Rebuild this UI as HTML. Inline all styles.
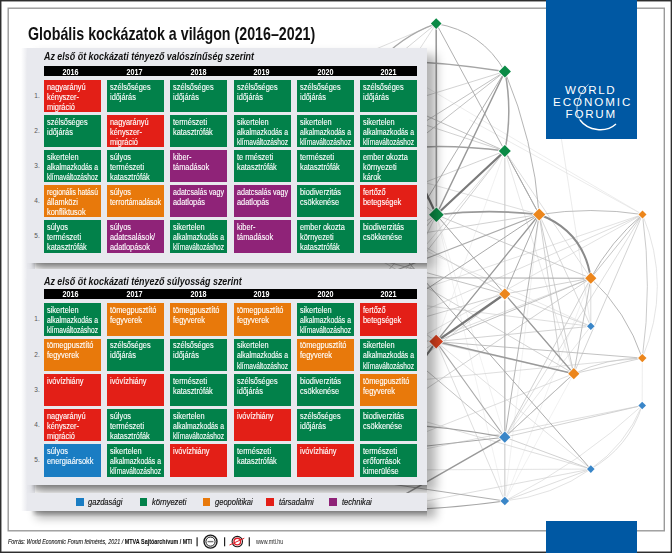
<!DOCTYPE html>
<html><head><meta charset="utf-8">
<style>
*{margin:0;padding:0;box-sizing:border-box}
html,body{width:672px;height:553px;overflow:hidden;background:#fff}
body{position:relative;font-family:"Liberation Sans",sans-serif}
.abs{position:absolute}
#outer{position:absolute;left:0;top:0;width:672px;height:553px;border:1px solid #222}
#inner{position:absolute;left:8px;top:8px;width:657px;height:523px;border:1px solid #7a7a7a}
.panel{position:absolute;left:27px;width:400px;background:#e8e9ee;box-shadow:9px 7px 10px rgba(0,0,0,0.3)}
.shadow{position:absolute;background:linear-gradient(#9a9a9a,#e6e6e6 90%,rgba(255,255,255,0))}
.ptitle{position:absolute;left:44px;font:italic bold 10.2px/12px "Liberation Sans",sans-serif;color:#111;white-space:nowrap;transform:scaleX(0.875);transform-origin:0 0}
.hdr{position:absolute;left:44px;width:373px;height:9.9px;background:#000}
.yr{position:absolute;top:0.3px;width:57px;text-align:center;color:#fff;font:bold 9px/10px "Liberation Sans",sans-serif;transform:scaleX(0.8)}
.cell{position:absolute;width:57px;height:32.4px;color:#fff;overflow:hidden}
.cell span{position:absolute;left:3px;font:8.7px/10.1px "Liberation Sans",sans-serif;white-space:nowrap;transform-origin:0 0;-webkit-text-stroke:0.12px #fff}
.num{position:absolute;left:34.3px;font:6.5px "Liberation Sans",sans-serif;color:#555}
.wef{position:absolute;color:#fff;font:11.6px/12px "Liberation Sans",sans-serif;white-space:nowrap}
.leg{position:absolute;width:7.5px;height:7.5px;top:498.3px}
.legt{position:absolute;top:496.9px;font:italic 8.4px "Liberation Sans",sans-serif;color:#111;-webkit-text-stroke:0.15px #111;transform:scaleX(0.9);transform-origin:0 0;white-space:nowrap}
</style></head><body>
<svg class="abs" style="left:0;top:0" width="672" height="553"><rect x="0.7" y="0.7" width="670.7" height="551.6" fill="none" stroke="#2e2e2e" stroke-width="1.5"/><rect x="8.2" y="8.2" width="656.1" height="522.6" fill="none" stroke="#9a9a9a" stroke-width="1.4"/></svg>
<svg class="abs" style="left:0;top:0" width="672" height="553" viewBox="0 0 672 553"><g fill="none" stroke-linecap="round"><path d="M504.8 151.0L436.2 341.6" stroke="#e8e8e8" stroke-width="0.6"/><path d="M504.8 151.0L504.8 437.2" stroke="#e8e8e8" stroke-width="0.6"/><path d="M504.8 151.0L504.8 501.0" stroke="#e8e8e8" stroke-width="0.6"/><path d="M436.4 214.8L436.2 341.6" stroke="#e8e8e8" stroke-width="0.6"/><path d="M436.4 214.8L504.8 437.2" stroke="#e8e8e8" stroke-width="0.6"/><path d="M436.4 214.8L504.8 501.0" stroke="#e8e8e8" stroke-width="0.6"/><path d="M539.2 214.5L504.8 501.0" stroke="#e8e8e8" stroke-width="0.6"/><path d="M504.8 294.0L504.8 501.0" stroke="#e8e8e8" stroke-width="0.6"/><path d="M504.8 501.0L573.8 373.7" stroke="#e8e8e8" stroke-width="0.6"/><path d="M504.8 501.0L590.8 278.2" stroke="#e8e8e8" stroke-width="0.6"/><path d="M642.3 358.1L642.2 405.5" stroke="#e0e0e0" stroke-width="0.6"/><path d="M380.0 60.0L642.5 214.5" stroke="#e0e0e0" stroke-width="0.6"/><path d="M642.5 214.5L470.0 120.0" stroke="#dedede" stroke-width="0.6"/><path d="M560.0 130.0L590.8 326.3" stroke="#dedede" stroke-width="0.6"/><path d="M642.5 214.5Q672.4 286.3 642.3 358.1" stroke="#d8d8d8" stroke-width="0.7"/><path d="M504.8 501.0Q580.3 463.1 642.2 405.5" stroke="#d8d8d8" stroke-width="0.7"/><path d="M590.8 326.3L380.0 230.0" stroke="#d8d8d8" stroke-width="0.6"/><path d="M504.8 151.0L573.8 373.7" stroke="#d8d8d8" stroke-width="0.6"/><path d="M642.5 214.5L390.0 300.0" stroke="#d5d5d5" stroke-width="0.7"/><path d="M436.2 341.6L590.8 469.1" stroke="#d5d5d5" stroke-width="0.7"/><path d="M642.2 405.5Q625.8 444.8 590.8 469.1" stroke="#d5d5d5" stroke-width="0.7"/><path d="M590.8 469.1Q552.0 496.3 504.8 501.0" stroke="#d5d5d5" stroke-width="0.7"/><path d="M642.5 214.5L380.0 360.0" stroke="#d5d5d5" stroke-width="0.7"/><path d="M590.8 469.1L380.0 470.0" stroke="#d5d5d5" stroke-width="0.7"/><path d="M590.8 326.3L504.8 437.2" stroke="#d5d5d5" stroke-width="0.6"/><path d="M436.4 214.8L573.8 373.7" stroke="#d5d5d5" stroke-width="0.7"/><path d="M642.5 214.5L504.8 437.2" stroke="#d0d0d0" stroke-width="0.7"/><path d="M504.8 151.0L590.8 278.2" stroke="#d0d0d0" stroke-width="0.7"/><path d="M642.3 358.1L420.0 380.0" stroke="#d0d0d0" stroke-width="0.7"/><path d="M642.2 405.5L420.0 450.0" stroke="#d0d0d0" stroke-width="0.7"/><path d="M590.8 469.1L420.0 420.0" stroke="#d0d0d0" stroke-width="0.7"/><path d="M642.5 214.5L380.0 330.0" stroke="#d0d0d0" stroke-width="0.7"/><path d="M590.8 326.3L380.0 300.0" stroke="#d0d0d0" stroke-width="0.7"/><path d="M590.8 469.1L380.0 510.0" stroke="#d0d0d0" stroke-width="0.7"/><path d="M573.8 373.7L380.0 450.0" stroke="#d0d0d0" stroke-width="0.7"/><path d="M590.8 278.2L380.0 360.0" stroke="#d0d0d0" stroke-width="0.7"/><path d="M504.8 151.0L380.0 300.0" stroke="#d0d0d0" stroke-width="0.7"/><path d="M436.2 23.6L380.0 110.0" stroke="#d0d0d0" stroke-width="0.7"/><path d="M436.2 23.6L350.0 60.0" stroke="#d0d0d0" stroke-width="0.7"/><path d="M539.2 214.5L380.0 170.0" stroke="#d0d0d0" stroke-width="0.7"/><path d="M436.2 341.6L504.8 501.0" stroke="#d0d0d0" stroke-width="0.7"/><path d="M642.2 405.5Q628.9 447.4 590.8 469.1" stroke="#d0d0d0" stroke-width="0.7"/><path d="M504.8 501.0L590.8 469.1" stroke="#cfcfcf" stroke-width="0.7"/><path d="M573.8 373.7L380.0 330.0" stroke="#cfcfcf" stroke-width="0.7"/><path d="M436.2 23.6L380.0 70.0" stroke="#ccc" stroke-width="0.8"/><path d="M590.8 326.3L590.8 278.2" stroke="#ccc" stroke-width="0.7"/><path d="M590.8 326.3L504.8 294.0" stroke="#ccc" stroke-width="0.7"/><path d="M642.5 214.5L573.8 373.7" stroke="#c8c8c8" stroke-width="0.8"/><path d="M436.2 341.6L590.8 326.3" stroke="#c8c8c8" stroke-width="0.8"/><path d="M504.8 437.2L642.2 405.5" stroke="#c8c8c8" stroke-width="0.8"/><path d="M504.8 437.2L504.8 501.0" stroke="#c8c8c8" stroke-width="0.8"/><path d="M573.8 373.7L642.3 358.1" stroke="#c8c8c8" stroke-width="0.8"/><path d="M504.8 151.0L504.8 294.0" stroke="#c8c8c8" stroke-width="0.8"/><path d="M573.8 373.7Q606.3 358.1 642.3 358.1" stroke="#c8c8c8" stroke-width="0.8"/><path d="M573.8 373.7L380.0 260.0" stroke="#c8c8c8" stroke-width="0.8"/><path d="M504.8 294.0L380.0 390.0" stroke="#c8c8c8" stroke-width="0.8"/><path d="M504.8 294.0L380.0 220.0" stroke="#c8c8c8" stroke-width="0.8"/><path d="M504.8 151.0L380.0 200.0" stroke="#c8c8c8" stroke-width="0.8"/><path d="M504.9 71.5L380.0 110.0" stroke="#c8c8c8" stroke-width="0.8"/><path d="M436.4 214.8L380.0 330.0" stroke="#c8c8c8" stroke-width="0.8"/><path d="M436.4 214.8L380.0 170.0" stroke="#c8c8c8" stroke-width="0.8"/><path d="M436.2 341.6L380.0 300.0" stroke="#c8c8c8" stroke-width="0.8"/><path d="M436.2 341.6L380.0 380.0" stroke="#c8c8c8" stroke-width="0.8"/><path d="M539.2 214.5L590.8 326.3" stroke="#c8c8c8" stroke-width="0.7"/><path d="M504.8 151.0L380.0 110.0" stroke="#c5c5c5" stroke-width="0.8"/><path d="M590.8 278.2L504.8 437.2" stroke="#c5c5c5" stroke-width="0.8"/><path d="M504.8 294.0L590.8 278.2" stroke="#c5c5c5" stroke-width="0.8"/><path d="M504.8 437.2L590.8 469.1" stroke="#c5c5c5" stroke-width="0.8"/><path d="M436.4 214.8L380.0 250.0" stroke="#c5c5c5" stroke-width="0.8"/><path d="M504.8 151.0L420.0 260.0" stroke="#c5c5c5" stroke-width="0.8"/><path d="M504.8 294.0L380.0 330.0" stroke="#c5c5c5" stroke-width="0.8"/><path d="M642.5 214.5Q652.4 286.3 642.3 358.1" stroke="#c5c5c5" stroke-width="0.9"/><path d="M539.2 214.5L560.0 360.0" stroke="#c5c5c5" stroke-width="0.8"/><path d="M590.8 278.2L380.0 420.0" stroke="#c5c5c5" stroke-width="0.8"/><path d="M539.2 214.5L380.0 240.0" stroke="#c5c5c5" stroke-width="0.8"/><path d="M436.4 214.8L590.8 278.2" stroke="#c0c0c0" stroke-width="0.8"/><path d="M539.2 214.5L573.8 373.7" stroke="#c0c0c0" stroke-width="0.8"/><path d="M642.5 214.5L590.8 278.2" stroke="#c0c0c0" stroke-width="0.9"/><path d="M573.8 373.7L504.8 437.2" stroke="#c0c0c0" stroke-width="0.8"/><path d="M539.2 214.5Q590.9 206.5 642.5 214.5" stroke="#bdbdbd" stroke-width="1.0"/><path d="M436.2 341.6L642.3 358.1" stroke="#bbb" stroke-width="0.9"/><path d="M380.0 95.0L504.8 151.0" stroke="#bbb" stroke-width="0.9"/><path d="M504.9 71.5L380.0 150.0" stroke="#bbb" stroke-width="0.9"/><path d="M504.9 71.5L380.0 170.0" stroke="#bbb" stroke-width="0.9"/><path d="M590.8 278.2L573.8 373.7" stroke="#bbb" stroke-width="0.9"/><path d="M590.8 278.2L436.2 341.6" stroke="#bbb" stroke-width="0.9"/><path d="M504.8 294.0L380.0 260.0" stroke="#bbb" stroke-width="0.9"/><path d="M504.8 437.2L573.8 373.7" stroke="#bbb" stroke-width="0.9"/><path d="M436.4 214.8L380.0 280.0" stroke="#bbb" stroke-width="0.9"/><path d="M504.8 437.2L380.0 331.0" stroke="#bbb" stroke-width="0.9"/><path d="M590.8 278.2Q626.6 311.6 642.3 358.1" stroke="#b8b8b8" stroke-width="1.0"/><path d="M539.2 214.5L504.8 437.2" stroke="#b5b5b5" stroke-width="1.0"/><path d="M504.9 71.5Q533.7 140.2 539.2 214.5" stroke="#b5b5b5" stroke-width="1.0"/><path d="M642.5 214.5Q610.4 241.3 590.8 278.2" stroke="#b5b5b5" stroke-width="1.0"/><path d="M436.2 23.6Q482.0 31.1 504.9 71.5" stroke="#b0b0b0" stroke-width="1.0"/><path d="M504.8 294.0L504.8 437.2" stroke="#b0b0b0" stroke-width="1.0"/><path d="M504.9 71.5L418.0 214.0" stroke="#b0b0b0" stroke-width="1.0"/><path d="M436.2 23.6L539.2 214.5" stroke="#b0b0b0" stroke-width="1.0"/><path d="M504.8 501.0L380.0 482.4" stroke="#b0b0b0" stroke-width="1.0"/><path d="M300.0 277.5L590.8 278.2" stroke="#aaa" stroke-width="1.1"/><path d="M436.2 341.6L504.8 437.2" stroke="#aaa" stroke-width="1.1"/><path d="M539.2 214.5L380.0 276.6" stroke="#aaa" stroke-width="1.1"/><path d="M504.8 151.0L539.2 214.5" stroke="#aaa" stroke-width="1.0"/><path d="M436.4 214.8L504.8 294.0" stroke="#aaa" stroke-width="1.0"/><path d="M539.2 214.5L380.0 320.0" stroke="#aaa" stroke-width="1.0"/><path d="M539.2 214.5L504.8 294.0" stroke="#aaa" stroke-width="1.0"/><path d="M590.8 469.1L380.0 230.0" stroke="#aaa" stroke-width="1.0"/><path d="M436.2 23.6Q399.9 36.6 375.0 66.0" stroke="#a8a8a8" stroke-width="1.2"/><path d="M504.8 437.2L380.0 451.2" stroke="#a8a8a8" stroke-width="1.1"/><path d="M504.9 71.5Q442.8 61.8 380.0 60.0" stroke="#a5a5a5" stroke-width="1.3"/><path d="M504.8 501.0Q442.7 509.7 380.0 510.5" stroke="#a5a5a5" stroke-width="1.2"/><path d="M504.9 71.5Q512.8 111.3 504.8 151.0" stroke="#a0a0a0" stroke-width="1.5"/><path d="M504.8 151.0Q442.5 142.5 380.0 150.0" stroke="#a0a0a0" stroke-width="1.6"/><path d="M504.8 437.2Q442.9 426.0 380.0 422.7" stroke="#a0a0a0" stroke-width="1.2"/><path d="M436.2 23.6L436.4 214.8" stroke="#9a9a9a" stroke-width="1.6"/><path d="M436.4 214.8Q487.8 208.7 539.2 214.5" stroke="#9a9a9a" stroke-width="1.6"/><path d="M504.8 294.0L573.8 373.7" stroke="#9a9a9a" stroke-width="1.3"/><path d="M539.2 214.5L436.2 341.6" stroke="#999" stroke-width="1.3"/><path d="M436.2 341.6L573.8 373.7" stroke="#999" stroke-width="1.5"/><path d="M504.9 71.5L436.4 214.8" stroke="#999" stroke-width="1.5"/><path d="M504.8 437.2L380.0 508.7" stroke="#999" stroke-width="1.4"/><path d="M539.2 214.5Q583.6 231.2 590.8 278.2" stroke="#8a8a8a" stroke-width="2.0"/><path d="M504.8 151.0L436.4 214.8" stroke="#7a7a7a" stroke-width="2.2"/><path d="M504.8 294.0L436.2 341.6" stroke="#777" stroke-width="2.2"/><path d="M436.2 341.6L380.0 420.0" stroke="#777" stroke-width="2.0"/><path d="M436.4 214.8L390.0 117.0" stroke="#707070" stroke-width="2.2"/></g><path d="M436.2 17.1L442.7 23.6L436.2 30.1L429.7 23.6Z" fill="#fff" opacity="0.85"/><path d="M436.2 18.3L441.5 23.6L436.2 28.900000000000002L430.9 23.6Z" fill="#0a8a45"/><path d="M504.9 64.3L512.1 71.5L504.9 78.7L497.7 71.5Z" fill="#fff" opacity="0.85"/><path d="M504.9 65.5L510.9 71.5L504.9 77.5L498.9 71.5Z" fill="#0a8a45"/><path d="M504.8 143.8L512.0 151L504.8 158.2L497.6 151Z" fill="#fff" opacity="0.85"/><path d="M504.8 145.0L510.8 151L504.8 157.0L498.8 151Z" fill="#0a8a45"/><path d="M436.4 206.3L444.9 214.8L436.4 223.3L427.9 214.8Z" fill="#fff" opacity="0.85"/><path d="M436.4 207.5L443.7 214.8L436.4 222.10000000000002L429.09999999999997 214.8Z" fill="#0a8a45"/><path d="M539.2 207.2L546.5 214.5L539.2 221.8L531.9000000000001 214.5Z" fill="#fff" opacity="0.85"/><path d="M539.2 208.4L545.3000000000001 214.5L539.2 220.6L533.1 214.5Z" fill="#ec861c"/><path d="M642.5 209.3L647.7 214.5L642.5 219.7L637.3 214.5Z" fill="#fff" opacity="0.85"/><path d="M642.5 210.5L646.5 214.5L642.5 218.5L638.5 214.5Z" fill="#ec861c"/><path d="M590.8 271.4L597.5999999999999 278.2L590.8 285.0L584.0 278.2Z" fill="#fff" opacity="0.85"/><path d="M590.8 272.59999999999997L596.4 278.2L590.8 283.8L585.1999999999999 278.2Z" fill="#ec861c"/><path d="M504.8 287.2L511.6 294L504.8 300.8L498.0 294Z" fill="#fff" opacity="0.85"/><path d="M504.8 288.4L510.40000000000003 294L504.8 299.6L499.2 294Z" fill="#ec861c"/><path d="M436.2 333.6L444.2 341.6L436.2 349.6L428.2 341.6Z" fill="#fff" opacity="0.85"/><path d="M436.2 334.8L443.0 341.6L436.2 348.40000000000003L429.4 341.6Z" fill="#d8401e"/><path d="M590.8 321.3L595.8 326.3L590.8 331.3L585.8 326.3Z" fill="#fff" opacity="0.85"/><path d="M590.8 322.5L594.5999999999999 326.3L590.8 330.1L587.0 326.3Z" fill="#3a86c8"/><path d="M642.3 352.70000000000005L647.6999999999999 358.1L642.3 363.5L636.9 358.1Z" fill="#fff" opacity="0.85"/><path d="M642.3 353.90000000000003L646.5 358.1L642.3 362.3L638.0999999999999 358.1Z" fill="#ec861c"/><path d="M573.8 366.9L580.5999999999999 373.7L573.8 380.5L567.0 373.7Z" fill="#fff" opacity="0.85"/><path d="M573.8 368.09999999999997L579.4 373.7L573.8 379.3L568.1999999999999 373.7Z" fill="#ec861c"/><path d="M642.2 400.5L647.2 405.5L642.2 410.5L637.2 405.5Z" fill="#fff" opacity="0.85"/><path d="M642.2 401.7L646.0 405.5L642.2 409.3L638.4000000000001 405.5Z" fill="#3a86c8"/><path d="M504.8 430.4L511.6 437.2L504.8 444.0L498.0 437.2Z" fill="#fff" opacity="0.85"/><path d="M504.8 431.59999999999997L510.40000000000003 437.2L504.8 442.8L499.2 437.2Z" fill="#3a86c8"/><path d="M590.8 464.1L595.8 469.1L590.8 474.1L585.8 469.1Z" fill="#fff" opacity="0.85"/><path d="M590.8 465.3L594.5999999999999 469.1L590.8 472.90000000000003L587.0 469.1Z" fill="#3a86c8"/><path d="M504.8 495.5L510.3 501L504.8 506.5L499.3 501Z" fill="#fff" opacity="0.85"/><path d="M504.8 496.7L509.1 501L504.8 505.3L500.5 501Z" fill="#3a86c8"/></svg>
<div class="abs" style="left:546px;top:0;width:90.5px;height:138.75px;background:#0058a3"></div>
<div class="wef" style="left:565px;top:84.3px;letter-spacing:1.6px">WORLD</div>
<div class="wef" style="left:553px;top:96.1px;letter-spacing:1.95px">ECONOMIC</div>
<div class="wef" style="left:565.5px;top:107.9px;letter-spacing:1.8px">FORUM</div>
<svg class="abs" style="left:0;top:0" width="672" height="553"><path d="M588.5 84.4C579 93 573 109 580 120" fill="none" stroke="#fff" stroke-width="0.7"/><path d="M580 120C588 131 606 133 616 124" fill="none" stroke="#fff" stroke-width="1.4"/></svg>
<div class="abs" style="left:546px;top:520.6px;width:90.5px;height:33px;background:#0058a3"></div>

<div class="abs" id="title" style="left:28px;top:24.2px;font:bold 17.7px/20px 'Liberation Sans',sans-serif;color:#111;white-space:nowrap;transform:scaleX(0.805);transform-origin:0 0">Globális kockázatok a világon (2016–2021)</div>

<div class="abs" style="left:21px;top:48px;width:6px;height:463.3px;background:linear-gradient(90deg,rgba(232,233,238,0),rgba(232,233,238,0.9))"></div>
<div class="abs" style="left:27px;top:60px;width:8px;height:451.3px;background:#e8e9ee"></div>
<!-- shadows -->
<div class="abs" style="left:31px;top:263px;width:396px;height:6px;background:linear-gradient(180deg,rgba(0,0,0,0.3),rgba(0,0,0,0.12) 60%,rgba(0,0,0,0));-webkit-mask-image:linear-gradient(90deg,transparent,#000 6px)"></div>
<div class="abs" style="left:31px;top:484.5px;width:396px;height:8px;background:linear-gradient(180deg,rgba(0,0,0,0.3),rgba(0,0,0,0.12) 60%,rgba(0,0,0,0));-webkit-mask-image:linear-gradient(90deg,transparent,#000 6px)"></div>
<div class="abs" style="left:31px;top:511.3px;width:396px;height:6px;background:linear-gradient(180deg,rgba(0,0,0,0.3),rgba(0,0,0,0.12) 60%,rgba(0,0,0,0));-webkit-mask-image:linear-gradient(90deg,transparent,#000 6px)"></div>
<!-- panel 1 -->
<div class="panel" style="top:48px;height:215px"></div>
<div class="ptitle" style="top:51.3px">Az első öt kockázati tényező valószínűség szerint</div>
<div class="hdr" style="top:66.3px"><div class="yr" style="left:-1.7px">2016</div><div class="yr" style="left:61.9px">2017</div><div class="yr" style="left:125.5px">2018</div><div class="yr" style="left:189.1px">2019</div><div class="yr" style="left:252.7px">2020</div><div class="yr" style="left:316.3px">2021</div></div>
<div class="num" style="top:92.0px">1.</div>
<div class="cell" style="left:44.0px;top:80.0px;background:#e31f17"><span style="top:1.8px;transform:scaleX(0.850)">nagyarányú</span><span style="top:11.9px;transform:scaleX(0.850)">kényszer-</span><span style="top:22.0px;transform:scaleX(0.850)">migráció</span></div>
<div class="cell" style="left:107.2px;top:80.0px;background:#02814a"><span style="top:1.8px;transform:scaleX(0.850)">szélsőséges</span><span style="top:11.9px;transform:scaleX(0.850)">időjárás</span></div>
<div class="cell" style="left:170.4px;top:80.0px;background:#02814a"><span style="top:1.8px;transform:scaleX(0.850)">szélsőséges</span><span style="top:11.9px;transform:scaleX(0.850)">időjárás</span></div>
<div class="cell" style="left:233.6px;top:80.0px;background:#02814a"><span style="top:1.8px;transform:scaleX(0.850)">szélsőséges</span><span style="top:11.9px;transform:scaleX(0.850)">időjárás</span></div>
<div class="cell" style="left:296.8px;top:80.0px;background:#02814a"><span style="top:1.8px;transform:scaleX(0.850)">szélsőséges</span><span style="top:11.9px;transform:scaleX(0.850)">időjárás</span></div>
<div class="cell" style="left:360.0px;top:80.0px;background:#02814a"><span style="top:1.8px;transform:scaleX(0.850)">szélsőséges</span><span style="top:11.9px;transform:scaleX(0.850)">időjárás</span></div>
<div class="num" style="top:127.0px">2.</div>
<div class="cell" style="left:44.0px;top:115.0px;background:#02814a"><span style="top:1.8px;transform:scaleX(0.850)">szélsőséges</span><span style="top:11.9px;transform:scaleX(0.850)">időjárás</span></div>
<div class="cell" style="left:107.2px;top:115.0px;background:#e31f17"><span style="top:1.8px;transform:scaleX(0.850)">nagyarányú</span><span style="top:11.9px;transform:scaleX(0.850)">kényszer-</span><span style="top:22.0px;transform:scaleX(0.850)">migráció</span></div>
<div class="cell" style="left:170.4px;top:115.0px;background:#02814a"><span style="top:1.8px;transform:scaleX(0.850)">természeti</span><span style="top:11.9px;transform:scaleX(0.850)">katasztrófák</span></div>
<div class="cell" style="left:233.6px;top:115.0px;background:#02814a"><span style="top:1.8px;transform:scaleX(0.850)">sikertelen</span><span style="top:11.9px;transform:scaleX(0.788)">alkalmazkodás a</span><span style="top:22.0px;transform:scaleX(0.765)">klímaváltozáshoz</span></div>
<div class="cell" style="left:296.8px;top:115.0px;background:#02814a"><span style="top:1.8px;transform:scaleX(0.850)">sikertelen</span><span style="top:11.9px;transform:scaleX(0.788)">alkalmazkodás a</span><span style="top:22.0px;transform:scaleX(0.765)">klímaváltozáshoz</span></div>
<div class="cell" style="left:360.0px;top:115.0px;background:#02814a"><span style="top:1.8px;transform:scaleX(0.850)">sikertelen</span><span style="top:11.9px;transform:scaleX(0.788)">alkalmazkodás a</span><span style="top:22.0px;transform:scaleX(0.765)">klímaváltozáshoz</span></div>
<div class="num" style="top:162.1px">3.</div>
<div class="cell" style="left:44.0px;top:150.1px;background:#02814a"><span style="top:1.8px;transform:scaleX(0.850)">sikertelen</span><span style="top:11.9px;transform:scaleX(0.788)">alkalmazkodás a</span><span style="top:22.0px;transform:scaleX(0.765)">klímaváltozáshoz</span></div>
<div class="cell" style="left:107.2px;top:150.1px;background:#02814a"><span style="top:1.8px;transform:scaleX(0.850)">súlyos</span><span style="top:11.9px;transform:scaleX(0.850)">természeti</span><span style="top:22.0px;transform:scaleX(0.850)">katasztrófák</span></div>
<div class="cell" style="left:170.4px;top:150.1px;background:#8f2378"><span style="top:1.8px;transform:scaleX(0.850)">kiber-</span><span style="top:11.9px;transform:scaleX(0.850)">támadások</span></div>
<div class="cell" style="left:233.6px;top:150.1px;background:#02814a"><span style="top:1.8px;transform:scaleX(0.850)">te rmészeti</span><span style="top:11.9px;transform:scaleX(0.850)">katasztrófák</span></div>
<div class="cell" style="left:296.8px;top:150.1px;background:#02814a"><span style="top:1.8px;transform:scaleX(0.850)">természeti</span><span style="top:11.9px;transform:scaleX(0.850)">katasztrófák</span></div>
<div class="cell" style="left:360.0px;top:150.1px;background:#02814a"><span style="top:1.8px;transform:scaleX(0.850)">ember okozta</span><span style="top:11.9px;transform:scaleX(0.850)">környezeti</span><span style="top:22.0px;transform:scaleX(0.850)">károk</span></div>
<div class="num" style="top:197.1px">4.</div>
<div class="cell" style="left:44.0px;top:185.1px;background:#e8790b"><span style="top:1.8px;transform:scaleX(0.776)">regionális hatású</span><span style="top:11.9px;transform:scaleX(0.850)">államközi</span><span style="top:22.0px;transform:scaleX(0.850)">konfliktusok</span></div>
<div class="cell" style="left:107.2px;top:185.1px;background:#e8790b"><span style="top:1.8px;transform:scaleX(0.850)">súlyos</span><span style="top:11.9px;transform:scaleX(0.806)">terrortámadások</span></div>
<div class="cell" style="left:170.4px;top:185.1px;background:#8f2378"><span style="top:1.8px;transform:scaleX(0.819)">adatcsalás vagy</span><span style="top:11.9px;transform:scaleX(0.850)">adatlopás</span></div>
<div class="cell" style="left:233.6px;top:185.1px;background:#8f2378"><span style="top:1.8px;transform:scaleX(0.819)">adatcsalás vagy</span><span style="top:11.9px;transform:scaleX(0.850)">adatlopás</span></div>
<div class="cell" style="left:296.8px;top:185.1px;background:#02814a"><span style="top:1.8px;transform:scaleX(0.850)">biodiverzitás</span><span style="top:11.9px;transform:scaleX(0.850)">csökkenése</span></div>
<div class="cell" style="left:360.0px;top:185.1px;background:#e31f17"><span style="top:1.8px;transform:scaleX(0.850)">fertőző</span><span style="top:11.9px;transform:scaleX(0.850)">betegségek</span></div>
<div class="num" style="top:232.2px">5.</div>
<div class="cell" style="left:44.0px;top:220.2px;background:#02814a"><span style="top:1.8px;transform:scaleX(0.850)">súlyos</span><span style="top:11.9px;transform:scaleX(0.850)">természeti</span><span style="top:22.0px;transform:scaleX(0.850)">katasztrófák</span></div>
<div class="cell" style="left:107.2px;top:220.2px;background:#8f2378"><span style="top:1.8px;transform:scaleX(0.850)">súlyos</span><span style="top:11.9px;transform:scaleX(0.850)">adatcsalások/</span><span style="top:22.0px;transform:scaleX(0.850)">adatlopások</span></div>
<div class="cell" style="left:170.4px;top:220.2px;background:#02814a"><span style="top:1.8px;transform:scaleX(0.850)">sikertelen</span><span style="top:11.9px;transform:scaleX(0.788)">alkalmazkodás a</span><span style="top:22.0px;transform:scaleX(0.765)">klímaváltozáshoz</span></div>
<div class="cell" style="left:233.6px;top:220.2px;background:#8f2378"><span style="top:1.8px;transform:scaleX(0.850)">kiber-</span><span style="top:11.9px;transform:scaleX(0.850)">támadások</span></div>
<div class="cell" style="left:296.8px;top:220.2px;background:#02814a"><span style="top:1.8px;transform:scaleX(0.850)">ember okozta</span><span style="top:11.9px;transform:scaleX(0.850)">környezeti</span><span style="top:22.0px;transform:scaleX(0.850)">katasztrófák</span></div>
<div class="cell" style="left:360.0px;top:220.2px;background:#02814a"><span style="top:1.8px;transform:scaleX(0.850)">biodiverzitás</span><span style="top:11.9px;transform:scaleX(0.850)">csökkenése</span></div>


<!-- panel 2 -->
<div class="panel" style="top:269px;height:215.5px"></div>
<div class="ptitle" style="top:275.5px">Az első öt kockázati tényező súlyosság szerint</div>
<div class="hdr" style="top:289.1px"><div class="yr" style="left:-1.7px">2016</div><div class="yr" style="left:61.9px">2017</div><div class="yr" style="left:125.5px">2018</div><div class="yr" style="left:189.1px">2019</div><div class="yr" style="left:252.7px">2020</div><div class="yr" style="left:316.3px">2021</div></div>
<div class="num" style="top:315.3px">1.</div>
<div class="cell" style="left:44.0px;top:303.3px;background:#02814a"><span style="top:1.8px;transform:scaleX(0.850)">sikertelen</span><span style="top:11.9px;transform:scaleX(0.788)">alkalmazkodás a</span><span style="top:22.0px;transform:scaleX(0.765)">klímaváltozáshoz</span></div>
<div class="cell" style="left:107.2px;top:303.3px;background:#e8790b"><span style="top:1.8px;transform:scaleX(0.850)">tömegpusztító</span><span style="top:11.9px;transform:scaleX(0.850)">fegyverek</span></div>
<div class="cell" style="left:170.4px;top:303.3px;background:#e8790b"><span style="top:1.8px;transform:scaleX(0.850)">tömegpusztító</span><span style="top:11.9px;transform:scaleX(0.850)">fegyverek</span></div>
<div class="cell" style="left:233.6px;top:303.3px;background:#e8790b"><span style="top:1.8px;transform:scaleX(0.850)">tömegpusztító</span><span style="top:11.9px;transform:scaleX(0.850)">fegyverek</span></div>
<div class="cell" style="left:296.8px;top:303.3px;background:#02814a"><span style="top:1.8px;transform:scaleX(0.850)">sikertelen</span><span style="top:11.9px;transform:scaleX(0.788)">alkalmazkodás a</span><span style="top:22.0px;transform:scaleX(0.765)">klímaváltozáshoz</span></div>
<div class="cell" style="left:360.0px;top:303.3px;background:#e31f17"><span style="top:1.8px;transform:scaleX(0.850)">fertőző</span><span style="top:11.9px;transform:scaleX(0.850)">betegségek</span></div>
<div class="num" style="top:350.6px">2.</div>
<div class="cell" style="left:44.0px;top:338.6px;background:#e8790b"><span style="top:1.8px;transform:scaleX(0.850)">tömegpusztító</span><span style="top:11.9px;transform:scaleX(0.850)">fegyverek</span></div>
<div class="cell" style="left:107.2px;top:338.6px;background:#02814a"><span style="top:1.8px;transform:scaleX(0.850)">szélsőséges</span><span style="top:11.9px;transform:scaleX(0.850)">időjárás</span></div>
<div class="cell" style="left:170.4px;top:338.6px;background:#02814a"><span style="top:1.8px;transform:scaleX(0.850)">szélsőséges</span><span style="top:11.9px;transform:scaleX(0.850)">időjárás</span></div>
<div class="cell" style="left:233.6px;top:338.6px;background:#02814a"><span style="top:1.8px;transform:scaleX(0.850)">sikertelen</span><span style="top:11.9px;transform:scaleX(0.788)">alkalmazkodás a</span><span style="top:22.0px;transform:scaleX(0.765)">klímaváltozáshoz</span></div>
<div class="cell" style="left:296.8px;top:338.6px;background:#e8790b"><span style="top:1.8px;transform:scaleX(0.850)">tömegpusztító</span><span style="top:11.9px;transform:scaleX(0.850)">fegyverek</span></div>
<div class="cell" style="left:360.0px;top:338.6px;background:#02814a"><span style="top:1.8px;transform:scaleX(0.850)">sikertelen</span><span style="top:11.9px;transform:scaleX(0.788)">alkalmazkodás a</span><span style="top:22.0px;transform:scaleX(0.765)">klímaváltozáshoz</span></div>
<div class="num" style="top:385.8px">3.</div>
<div class="cell" style="left:44.0px;top:373.8px;background:#e31f17"><span style="top:1.8px;transform:scaleX(0.850)">ivóvízhiány</span></div>
<div class="cell" style="left:107.2px;top:373.8px;background:#e31f17"><span style="top:1.8px;transform:scaleX(0.850)">ivóvízhiány</span></div>
<div class="cell" style="left:170.4px;top:373.8px;background:#02814a"><span style="top:1.8px;transform:scaleX(0.850)">természeti</span><span style="top:11.9px;transform:scaleX(0.850)">katasztrófák</span></div>
<div class="cell" style="left:233.6px;top:373.8px;background:#02814a"><span style="top:1.8px;transform:scaleX(0.850)">szélsőséges</span><span style="top:11.9px;transform:scaleX(0.850)">időjárás</span></div>
<div class="cell" style="left:296.8px;top:373.8px;background:#02814a"><span style="top:1.8px;transform:scaleX(0.850)">biodiverzitás</span><span style="top:11.9px;transform:scaleX(0.850)">csökkenése</span></div>
<div class="cell" style="left:360.0px;top:373.8px;background:#e8790b"><span style="top:1.8px;transform:scaleX(0.850)">tömegpusztító</span><span style="top:11.9px;transform:scaleX(0.850)">fegyverek</span></div>
<div class="num" style="top:421.1px">4.</div>
<div class="cell" style="left:44.0px;top:409.1px;background:#e31f17"><span style="top:1.8px;transform:scaleX(0.850)">nagyarányú</span><span style="top:11.9px;transform:scaleX(0.850)">kényszer-</span><span style="top:22.0px;transform:scaleX(0.850)">migráció</span></div>
<div class="cell" style="left:107.2px;top:409.1px;background:#02814a"><span style="top:1.8px;transform:scaleX(0.850)">súlyos</span><span style="top:11.9px;transform:scaleX(0.850)">természeti</span><span style="top:22.0px;transform:scaleX(0.850)">katasztrófák</span></div>
<div class="cell" style="left:170.4px;top:409.1px;background:#02814a"><span style="top:1.8px;transform:scaleX(0.850)">sikertelen</span><span style="top:11.9px;transform:scaleX(0.788)">alkalmazkodás a</span><span style="top:22.0px;transform:scaleX(0.765)">klímaváltozáshoz</span></div>
<div class="cell" style="left:233.6px;top:409.1px;background:#e31f17"><span style="top:1.8px;transform:scaleX(0.850)">ivóvízhiány</span></div>
<div class="cell" style="left:296.8px;top:409.1px;background:#02814a"><span style="top:1.8px;transform:scaleX(0.850)">szélsőséges</span><span style="top:11.9px;transform:scaleX(0.850)">időjárás</span></div>
<div class="cell" style="left:360.0px;top:409.1px;background:#02814a"><span style="top:1.8px;transform:scaleX(0.850)">biodiverzitás</span><span style="top:11.9px;transform:scaleX(0.850)">csökkenése</span></div>
<div class="num" style="top:456.3px">5.</div>
<div class="cell" style="left:44.0px;top:444.3px;background:#1a7dc3"><span style="top:1.8px;transform:scaleX(0.850)">súlyos</span><span style="top:11.9px;transform:scaleX(0.850)">energiaársokk</span></div>
<div class="cell" style="left:107.2px;top:444.3px;background:#02814a"><span style="top:1.8px;transform:scaleX(0.850)">sikertelen</span><span style="top:11.9px;transform:scaleX(0.788)">alkalmazkodás a</span><span style="top:22.0px;transform:scaleX(0.765)">klímaváltozáshoz</span></div>
<div class="cell" style="left:170.4px;top:444.3px;background:#e31f17"><span style="top:1.8px;transform:scaleX(0.850)">ivóvízhiány</span></div>
<div class="cell" style="left:233.6px;top:444.3px;background:#02814a"><span style="top:1.8px;transform:scaleX(0.850)">természeti</span><span style="top:11.9px;transform:scaleX(0.850)">katasztrófák</span></div>
<div class="cell" style="left:296.8px;top:444.3px;background:#e31f17"><span style="top:1.8px;transform:scaleX(0.850)">ivóvízhiány</span></div>
<div class="cell" style="left:360.0px;top:444.3px;background:#02814a"><span style="top:1.8px;transform:scaleX(0.850)">természeti</span><span style="top:11.9px;transform:scaleX(0.850)">erőforrások</span><span style="top:22.0px;transform:scaleX(0.850)">kimerülése</span></div>


<!-- legend -->
<div class="panel" style="top:492.7px;height:18.6px"></div>
<div class="leg" style="left:76.3px;background:#1a7dc3"></div><div class="legt" style="left:87.8px">gazdasági</div>
<div class="leg" style="left:139.5px;background:#02814a"></div><div class="legt" style="left:151.5px">környezeti</div>
<div class="leg" style="left:202.8px;background:#e8790b"></div><div class="legt" style="left:215px">geopolitikai</div>
<div class="leg" style="left:266.2px;background:#e31f17"></div><div class="legt" style="left:278.6px">társadalmi</div>
<div class="leg" style="left:329.2px;background:#8f2378"></div><div class="legt" style="left:342px">technikai</div>

<!-- footer -->
<div class="abs" style="left:8.3px;top:537.8px;font:italic 6.7px 'Liberation Sans',sans-serif;color:#111;white-space:nowrap;transform:scaleX(0.808);transform-origin:0 0;-webkit-text-stroke:0.1px #111">Forrás: World Economic Forum felmérés, 2021 / <b style="font-style:normal">MTVA Sajtóarchívum / MTI</b></div>
<svg class="abs" style="left:0;top:0" width="672" height="553">
<rect x="196.5" y="537.3" width="1.2" height="9" fill="#222"/>
<rect x="224" y="537.3" width="1.2" height="9" fill="#222"/>
<rect x="248.7" y="537.3" width="1.2" height="9" fill="#222"/>
<circle cx="210.5" cy="541.6" r="6.5" fill="none" stroke="#1a1a1a" stroke-width="1.4"/>
<circle cx="210.5" cy="541.6" r="4.6" fill="none" stroke="#1a1a1a" stroke-width="1"/>
<rect x="207.6" y="540.9" width="5.8" height="1.4" fill="#777"/>
<circle cx="237.3" cy="541.6" r="5.2" fill="none" stroke="#1a1a1a" stroke-width="1.1"/>
<circle cx="237.3" cy="541.6" r="3.3" fill="none" stroke="#e0202a" stroke-width="1.4"/>
<path d="M229.5 545L244.3 538.2" stroke="#e0202a" stroke-width="1"/>
</svg>
<div class="abs" style="left:256.2px;top:538px;font:6.6px 'Liberation Sans',sans-serif;color:#222;white-space:nowrap;transform:scaleX(0.81);transform-origin:0 0">www.mti.hu</div>
</body></html>
